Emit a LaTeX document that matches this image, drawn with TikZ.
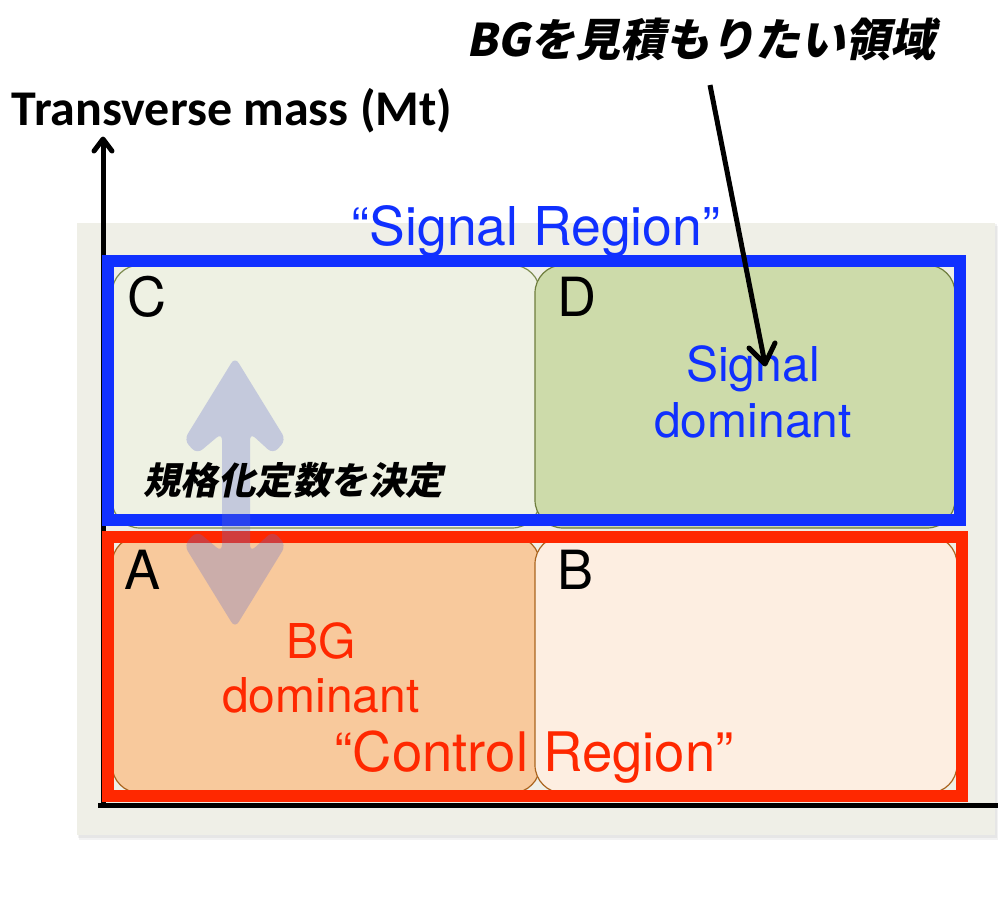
\documentclass[tikz,border=0pt]{standalone}
\usepackage{fontspec}
\newfontfamily\hvfont{TeX Gyre Heros}
\newfontfamily\calfont{Carlito}
\newfontfamily\cjkfont{Noto Sans CJK JP}[FakeSlant=0.2]
\definecolor{panelbg}{RGB}{239,239,231}
\definecolor{cfill}{RGB}{238,241,227}
\definecolor{cdraw}{RGB}{125,140,80}
\definecolor{dfill}{RGB}{205,219,170}
\definecolor{ddraw}{RGB}{110,125,60}
\definecolor{afill}{RGB}{248,201,156}
\definecolor{bfill}{RGB}{253,238,225}
\definecolor{abdraw}{RGB}{170,100,30}
\definecolor{sigblue}{RGB}{16,48,255}
\definecolor{ctlred}{RGB}{255,40,0}
\definecolor{arrowcol}{RGB}{100,110,205}
\begin{document}
\begin{tikzpicture}[x=1pt,y=-1pt,
  txt/.style={inner sep=0pt,outer sep=0pt},
  cell/.style={rounded corners=28pt,line width=1.2pt,minimum width=#1,inner sep=0pt},
  region/.style={line width=12pt,inner sep=0pt,minimum height=259pt},
  axis/.style={line width=5pt,black},
  chevron/.style={line cap=round,line join=round},
  lbl/.style={txt,font=\hvfont\fontsize{54}{60}\selectfont,anchor=base west},
  big/.style={txt,font=\hvfont\fontsize{48}{54}\selectfont,align=center,anchor=base},
]
\useasboundingbox (0,0) rectangle (998,903);
% panel with soft shadow
\fill[black,opacity=0.05] (79,226) rectangle (998,840);
\fill[black,opacity=0.05] (78,224) rectangle (997,838);
\node[fill=panelbg,inner sep=0pt,minimum width=918pt,minimum height=612pt] (panel) at (536,529) {};
% axes
\coordinate (origin) at (103,805);
\coordinate (ytop) at (103,139);
\coordinate (xend) at (998,805);
\coordinate (yw1) at (94,151);
\coordinate (yw2) at (112,151);
\draw[axis] (origin) -- (ytop);
\draw[axis,chevron] (yw1) -- (ytop) -- (yw2);
\draw[axis] (98,805) -- (xend);
% cells
\node[cell=428pt,minimum height=263pt,fill=cfill,draw=cdraw] (C) at (326,396.5) {};
\node[cell=420pt,minimum height=263pt,fill=dfill,draw=ddraw] (D) at (745,396.5) {};
\node[cell=428pt,minimum height=257pt,fill=afill,draw=abdraw] (A) at (326,664.5) {};
\node[cell=422pt,minimum height=257pt,fill=bfill,draw=abdraw] (B) at (746,664.5) {};
% regions
\node[region,draw=sigblue,minimum width=852pt] (SR) at (534,390.5) {};
\node[region,draw=ctlred,minimum width=854pt] (CR) at (535,666.5) {};
% translucent double arrow
\fill[arrowcol,opacity=0.3,rounded corners=7pt]
  (235,357) -- (286,440) -- (273,454) -- (250,433) -- (250,552) -- (273,531)
  -- (286,545) -- (235,628) -- (184,545) -- (197,531) -- (222,552) -- (222,433)
  -- (197,454) -- (184,440) -- cycle;
% texts
\node[txt,font=\calfont\bfseries\fontsize{50}{56}\selectfont,anchor=base west] (ylabel) at (12,125) {Transverse mass (Mt)};
\node[txt,font=\cjkfont\bfseries\fontsize{45}{50}\selectfont,anchor=base west] (goal) at (466,56) {BGを見積もりたい領域};
\node[txt,font=\hvfont\fontsize{53.5}{60}\selectfont,text=sigblue,anchor=base] (srlabel) at (536,245) {“Signal Region”};
\node[lbl] (Clbl) at (127,316) {C};
\node[lbl] (Dlbl) at (557,316) {D};
\node[lbl] (Albl) at (124,589) {A};
\node[lbl] (Blbl) at (557,589) {B};
\node[big,text=sigblue] (sigdom) at (753,437) {Signal\\[1.5pt]dominant};
\node[big,text=ctlred] (bgdom) at (321,712) {BG\\[0pt]dominant};
\node[txt,font=\hvfont\fontsize{54.5}{60}\selectfont,text=ctlred,anchor=base] (crlabel) at (534,771) {“Control Region”};
\node[txt,font=\cjkfont\bfseries\fontsize{37.5}{42}\selectfont,anchor=base west] (norm) at (143,494) {規格化定数を決定};
% pointer
\coordinate (ptrstart) at (710,85);
\coordinate (ptrend) at (765,364);
\coordinate (pw1) at (775,343);
\coordinate (pw2) at (749,348);
\draw[line width=5pt] (ptrstart) -- (ptrend);
\draw[line width=5pt,chevron] (pw1) -- (ptrend) -- (pw2);
\end{tikzpicture}
\end{document}
